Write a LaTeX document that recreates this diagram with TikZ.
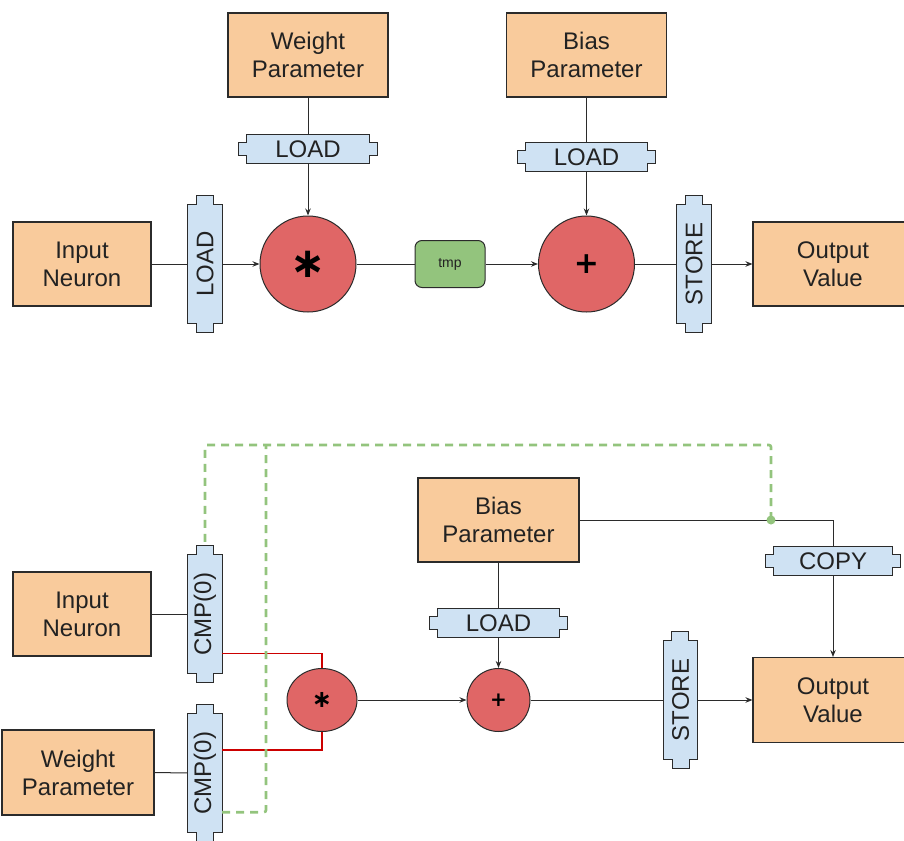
\documentclass[tikz,border=0pt]{standalone}
\usepackage{fontspec}
\setmainfont{Liberation Sans}
\newfontfamily\opfont{DejaVu Sans}
\usetikzlibrary{arrows.meta,shapes.geometric,backgrounds}

\definecolor{boxorange}{HTML}{F9CB9C}
\definecolor{tapeblue}{HTML}{CFE2F3}
\definecolor{opred}{HTML}{E06666}
\definecolor{tmpgreen}{HTML}{93C47D}
\definecolor{wire}{HTML}{2B2B2B}
\definecolor{redwire}{HTML}{CC0000}
\definecolor{txt}{HTML}{222222}

\newcommand\boxfont{\fontsize{24}{28}\selectfont}
\newcommand\bigop{\opfont\bfseries\fontsize{42}{42}\selectfont}
\newcommand\bigplus{\opfont\bfseries\fontsize{30}{30}\selectfont}
\newcommand\smallop{\opfont\bfseries\fontsize{24}{24}\selectfont}
\newcommand\smallplus{\opfont\bfseries\fontsize{20}{20}\selectfont}

% outline of a horizontal tape node: stepped tabs on left and right ends
\newcommand\tapeH[1]{%
  \filldraw[tapeline] (#1.north west) -- (#1.north east) -- ++(0,8) -- ++(8,0)
    -- ++(0,13) -- ++(-8,0) -- (#1.south east) -- (#1.south west) -- ++(0,-8)
    -- ++(-8,0) -- ++(0,-13) -- ++(8,0) -- cycle;}
% outline of a vertical tape node: stepped tabs on top and bottom ends
\newcommand\tapeV[1]{%
  \filldraw[tapeline] (#1.north west) -- ++(8.5,0) -- ++(0,-9) -- ++(17,0)
    -- ++(0,9) -- (#1.north east) -- (#1.south east) -- ++(-8.5,0) -- ++(0,9)
    -- ++(-17,0) -- ++(0,-9) -- (#1.south west) -- cycle;}

\tikzset{
  obox/.style={draw=wire, fill=boxorange, line width=1.1pt, minimum height=84pt,
    align=center, font=\boxfont, text=txt, inner sep=0pt},
  tapeh/.style={minimum width=122pt, minimum height=29pt, inner sep=0pt,
    font=\boxfont, text=txt},
  tapev/.style={minimum width=34pt, minimum height=118pt, inner sep=0pt,
    font=\boxfont, text=txt},
  tapeline/.style={draw=wire, fill=tapeblue, line width=1.1pt, line join=miter},
  opnode/.style={draw=wire, fill=opred, line width=1pt, inner sep=0pt, text=black},
  tmpbox/.style={draw=wire, fill=tmpgreen, line width=1pt, rounded corners=7pt,
    minimum width=70pt, minimum height=47pt, inner sep=0pt,
    font=\fontsize{14}{16}\selectfont, text=txt},
  wireline/.style={draw=wire, line width=1pt},
  arrowline/.style={wireline, -{Stealth[length=7pt,width=5.5pt]}},
  redline/.style={draw=redwire, line width=1.4pt},
  gdash/.style={draw=tmpgreen, line width=2.6pt, dash pattern=on 8pt off 6pt,
    rounded corners=2pt},
}

\begin{document}
\begin{tikzpicture}[x=1pt,y=-1pt]
\path[use as bounding box, clip] (0,0) rectangle (904,840);

% ---------- upper network: multiply then add ----------
\node[obox, minimum width=160pt] (wp1) at (308,55) {Weight\\Parameter};
\node[obox, minimum width=160pt] (bp1) at (586.5,55) {Bias\\Parameter};
\node[obox, minimum width=138pt] (in1) at (82,264) {Input\\Neuron};
\node[obox, minimum width=160pt] (out1) at (833,264) {Output\\Value};

\node[tapeh] (ld1) at (308,149) {LOAD};
\node[tapeh] (ld2) at (586.5,157) {LOAD};
\node[tapev] (lv1) at (205,264) {\rotatebox{90}{LOAD}};
\node[tapev] (st1) at (694,264) {\rotatebox{90}{STORE}};

\node[opnode, circle, minimum size=96pt, font=\bigop] (mul1) at (308,264) {∗};
\node[opnode, circle, minimum size=96pt, font=\bigplus] (add1) at (586.5,264) {+};
\node[tmpbox] (tmp) at (450,264) {tmp};

% ---------- lower network: compare, multiply, add, copy ----------
\node[obox, minimum width=161pt] (bp2) at (498.5,520) {Bias\\Parameter};
\node[obox, minimum width=138pt] (in2) at (82,614) {Input\\Neuron};
\node[obox, minimum width=152pt, minimum height=85pt] (wp2) at (78,772.5) {Weight\\Parameter};
\node[obox, minimum width=160pt, minimum height=85pt] (out2) at (833,700) {Output\\Value};

\node[tapev] (c1) at (205,614) {\rotatebox{90}{CMP(0)}};
\node[tapev] (c2) at (205,773) {\rotatebox{90}{CMP(0)}};
\node[tapev] (st2) at (680.5,700) {\rotatebox{90}{STORE}};
\node[tapeh] (ld3) at (498.5,623) {LOAD};
\node[tapeh, minimum width=118pt] (cp) at (833,561) {COPY};

\node[opnode, ellipse, minimum width=70pt, minimum height=63pt, font=\smallop] (mul2) at (322,700) {∗};
\node[opnode, circle, minimum size=63pt, font=\smallplus] (add2) at (498.5,700) {+};

% tape outlines behind their labels
\begin{scope}[on background layer]
  \tapeH{ld1} \tapeH{ld2} \tapeH{ld3} \tapeH{cp}
  \tapeV{lv1} \tapeV{st1} \tapeV{c1} \tapeV{c2} \tapeV{st2}
\end{scope}

% ---------- upper connectors ----------
\draw[wireline] (wp1.south) -- (ld1.north);
\draw[arrowline] (ld1.south) -- (mul1.north);
\draw[wireline] (bp1.south) -- (ld2.north);
\draw[arrowline] (ld2.south) -- (add1.north);
\draw[wireline] (in1.east) -- (lv1.west);
\draw[arrowline] (lv1.east) -- (mul1.west);
\draw[wireline] (mul1.east) -- (tmp.west);
\draw[arrowline] (tmp.east) -- (add1.west);
\draw[wireline] (add1.east) -- (st1.west);
\draw[arrowline] (st1.east) -- (out1.west);

% ---------- lower connectors ----------
\draw[wireline] (in2.east) -- (c1.west);
\draw[wireline] (wp2.east) -- (c2.west);
\draw[redline] ([yshift=20pt]c1.south east) -| (mul2.north);
\draw[redline] ([yshift=-36pt]c2.north east) -| (mul2.south);
\draw[arrowline] (mul2.east) -- (add2.west);
\draw[wireline] (bp2.south) -- (ld3.north);
\draw[arrowline] (ld3.south) -- (add2.north);
\draw[wireline] (add2.east) -- (st2.west);
\draw[arrowline] (st2.east) -- (out2.west);
\draw[wireline] (bp2.east) -| (cp.north);
\draw[arrowline] (cp.south) -- (out2.north);

% control path from the copy tap back to the comparisons
\coordinate (tap) at (771,520);
\coordinate (split) at (266,445);
\draw[gdash] (tap) -- ++(0,-75) -| ([yshift=9pt]c1.north);
\draw[gdash] ([yshift=20pt]c2.south east) -| (split);
\fill[tmpgreen] (tap) circle (4.5);
\end{tikzpicture}
\end{document}
